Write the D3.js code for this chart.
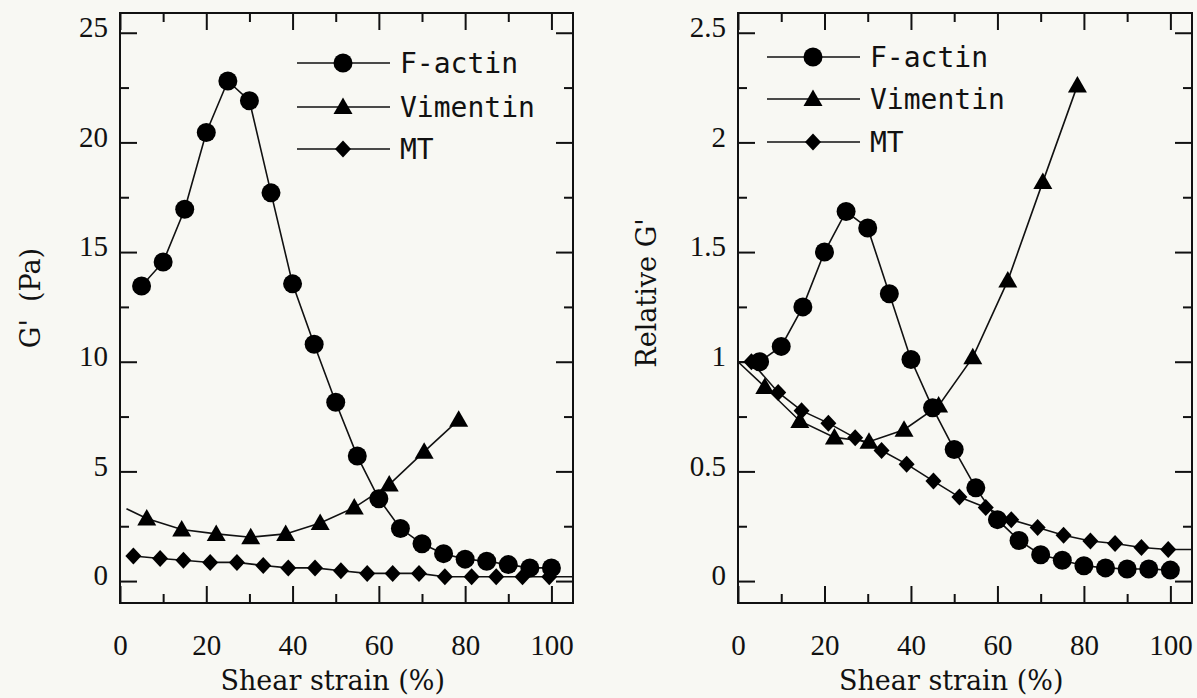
<!DOCTYPE html>
<html>
<head>
<meta charset="utf-8">
<script src="https://cdn.jsdelivr.net/npm/d3@7.9.0/dist/d3.min.js"></script>
<style>
  body { margin: 0; background: #f8f8f3; }
  svg { display: block; }
  .tick text { font-family: "Liberation Serif", serif; font-size: 29px; fill: #111; }
  .tick line { stroke: #111; stroke-width: 2; }
  .title { font-family: "DejaVu Serif", serif; font-size: 27px; fill: #111; white-space: pre; }
  .legend text { font-family: "DejaVu Sans Mono", monospace; font-size: 28px; fill: #111; }
</style>
</head>
<body>
<svg id="chart" width="1197" height="698"></svg>
<script>
// strain (%) for each series
const strainFA = [5, 10, 15, 20, 25, 30, 35, 40, 45, 50, 55, 60, 65, 70, 75, 80, 85, 90, 95, 100];
const strainVim = [6.2, 14.3, 22.3, 30.3, 38.4, 46.4, 54.3, 62.4, 70.5, 78.5];
const strainMT = [3.1, 9.3, 14.7, 20.9, 27.1, 33.2, 39.0, 45.2, 51.2, 57.3, 63.2, 69.3, 75.3, 81.5, 87.2, 93.3, 99.5];

// G' (Pa)
const gFA = [13.45, 14.55, 16.95, 20.45, 22.8, 21.9, 17.7, 13.55, 10.8, 8.15, 5.7, 3.75, 2.4, 1.7, 1.25, 1.0, 0.9, 0.75, 0.6, 0.6];
const gVim = [2.85, 2.35, 2.15, 2.0, 2.15, 2.65, 3.35, 4.4, 5.9, 7.35];
const gMT = [1.14, 1.03, 0.95, 0.85, 0.85, 0.71, 0.6, 0.6, 0.47, 0.35, 0.35, 0.35, 0.2, 0.2, 0.2, 0.2, 0.2];

// relative G'
const relFA = [1.0, 1.07, 1.25, 1.5, 1.685, 1.61, 1.31, 1.01, 0.79, 0.6, 0.425, 0.28, 0.185, 0.12, 0.095, 0.07, 0.06, 0.055, 0.055, 0.05];
const relVim = [0.885, 0.73, 0.655, 0.635, 0.69, 0.8, 1.02, 1.37, 1.82, 2.26];
const relMT = [1.0, 0.86, 0.777, 0.72, 0.653, 0.595, 0.533, 0.456, 0.383, 0.335, 0.28, 0.244, 0.209, 0.183, 0.171, 0.153, 0.144];

// curve ends drawn without a marker
const vimLeadG = [1.5, 3.3];
const mtTailG = [105, 0.2];
const relOrigin = [0, 1];
const mtTailRel = [105, 0.144];

// ticks
const strainTicks = [0, 20, 40, 60, 80, 100];
const strainMinor = [10, 30, 50, 70, 90];
const gTicks = [0, 5, 10, 15, 20, 25];
const gMinor = [2.5, 7.5, 12.5, 17.5, 22.5];
const relTicks = [0, 0.5, 1, 1.5, 2, 2.5];
const relMinor = [0.25, 0.75, 1.25, 1.75, 2.25];

const seriesNames = ['F-actin', 'Vimentin', 'MT'];
const shapes = ['circle', 'triangle', 'diamond'];

const svg = d3.select('#chart');
const plotTop = 13, plotBottom = 603;

const panels = [
  {
    left: 120, right: 573, yDomain: [-1, 25.9], yTicks: gTicks, yMinor: gMinor,
    yTitle: "G'  (Pa)", yTitleX: 30, yTitleY: 298,
    legendX: 297, legendY: [63, 107, 149],
    series: [
      { x: strainFA, y: gFA, lead: null, tail: null },
      { x: strainVim, y: gVim, lead: vimLeadG, tail: null },
      { x: strainMT, y: gMT, lead: null, tail: mtTailG },
    ],
  },
  {
    left: 738, right: 1192, yDomain: [-0.1, 2.59], yTicks: relTicks, yMinor: relMinor,
    yTitle: "Relative G'", yTitleX: 646, yTitleY: 293,
    legendX: 767, legendY: [57, 99, 142],
    series: [
      { x: strainFA, y: relFA, lead: relOrigin, tail: null },
      { x: strainVim, y: relVim, lead: relOrigin, tail: null },
      { x: strainMT, y: relMT, lead: relOrigin, tail: mtTailRel },
    ],
  },
];

function drawMarker(g, shape) {
  if (shape === 'circle') {
    g.append('circle').attr('r', 9.5).attr('fill', '#000');
  } else if (shape === 'triangle') {
    g.append('path').attr('d', 'M0,-9.5L9.5,7L-9.5,7Z').attr('fill', '#000');
  } else {
    g.append('path').attr('d', 'M0,-8.5L8,0L0,8.5L-8,0Z').attr('fill', '#000');
  }
}

panels.forEach(p => {
  const x = d3.scaleLinear().domain([0, 105]).range([p.left, p.right]);
  const y = d3.scaleLinear().domain(p.yDomain).range([plotBottom, plotTop]);

  const g = svg.append('g');

  // axes with inward ticks on all four sides
  const axes = [
    [d3.axisBottom(x).tickValues(strainTicks).tickSize(-17).tickPadding(31).tickFormat(d3.format('d')), `translate(0,${plotBottom})`],
    [d3.axisBottom(x).tickValues(strainMinor).tickSize(-9).tickFormat(''), `translate(0,${plotBottom})`],
    [d3.axisTop(x).tickValues(strainTicks).tickSize(-17).tickFormat(''), `translate(0,${plotTop})`],
    [d3.axisTop(x).tickValues(strainMinor).tickSize(-9).tickFormat(''), `translate(0,${plotTop})`],
    [d3.axisLeft(y).tickValues(p.yTicks).tickSize(-17).tickPadding(12).tickFormat(d => String(d)), `translate(${p.left},0)`, true],
    [d3.axisLeft(y).tickValues(p.yMinor).tickSize(-9).tickFormat(''), `translate(${p.left},0)`],
    [d3.axisRight(y).tickValues(p.yTicks).tickSize(-17).tickFormat(''), `translate(${p.right},0)`],
    [d3.axisRight(y).tickValues(p.yMinor).tickSize(-9).tickFormat(''), `translate(${p.right},0)`],
  ];
  axes.forEach(([axis, tr, isY]) => {
    const a = g.append('g').attr('transform', tr).call(axis);
    a.select('.domain').remove();
    // y labels sit slightly above their tick in the original
    if (isY) a.selectAll('.tick text').attr('dy', '0.13em');
  });

  g.append('rect')
    .attr('x', p.left).attr('y', plotTop)
    .attr('width', p.right - p.left).attr('height', plotBottom - plotTop)
    .attr('fill', 'none').attr('stroke', '#111').attr('stroke-width', 2);

  // lines
  const line = d3.line().x(d => x(d[0])).y(d => y(d[1]));
  p.series.forEach(s => {
    let pts = s.x.map((v, i) => [v, s.y[i]]);
    if (s.lead) pts = [s.lead, ...pts];
    if (s.tail) pts = [...pts, s.tail];
    g.append('path').attr('d', line(pts))
      .attr('fill', 'none').attr('stroke', '#111').attr('stroke-width', 1.6);
  });

  // markers
  p.series.forEach((s, si) => {
    s.x.forEach((v, i) => {
      const m = g.append('g').attr('transform', `translate(${x(v)},${y(s.y[i])})`);
      drawMarker(m, shapes[si]);
    });
  });

  // legend
  const leg = g.append('g').attr('class', 'legend');
  seriesNames.forEach((name, i) => {
    const ly = p.legendY[i];
    leg.append('line').attr('x1', p.legendX).attr('x2', p.legendX + 93)
      .attr('y1', ly).attr('y2', ly).attr('stroke', '#111').attr('stroke-width', 1.6);
    const m = leg.append('g').attr('transform', `translate(${p.legendX + 46},${ly})`);
    drawMarker(m, shapes[i]);
    leg.append('text').attr('x', p.legendX + 103).attr('y', ly).attr('dy', '0.37em').text(name);
  });

  // axis titles
  g.append('text').attr('class', 'title')
    .attr('x', (p.left + x(100)) / 2 - 3).attr('y', 690)
    .attr('text-anchor', 'middle').text('Shear strain (%)');
  g.append('text').attr('class', 'title')
    .attr('transform', `translate(${p.yTitleX},${p.yTitleY}) rotate(-90)`)
    .attr('text-anchor', 'middle').attr('dy', '0.36em').text(p.yTitle);
});
</script>
</body>
</html>
